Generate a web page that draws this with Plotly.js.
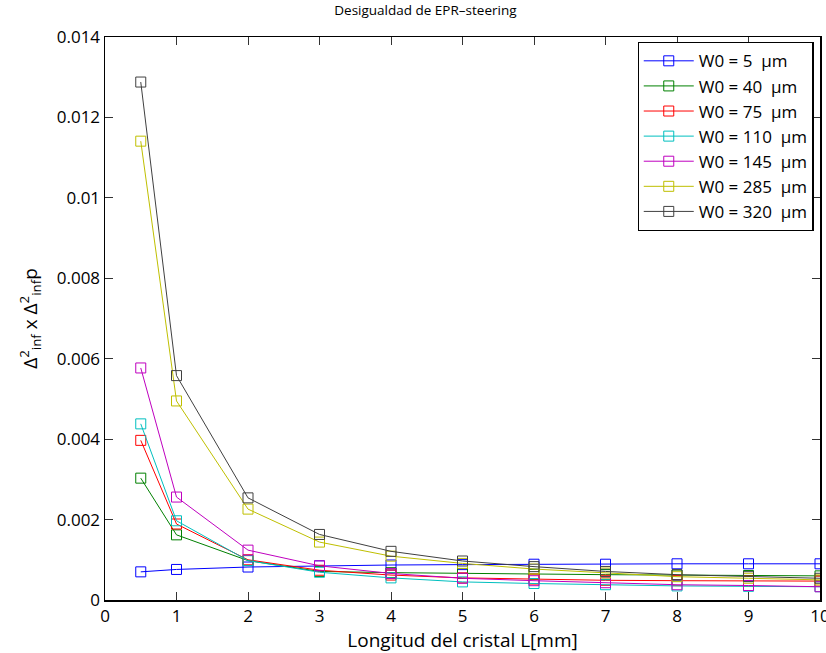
<!DOCTYPE html>
<html><head><meta charset="utf-8">
<script src="https://cdn.plot.ly/plotly-3.0.1.min.js"></script>
<style>body{margin:0;background:#fff}#chart{width:826px;height:653px}</style>
</head><body><div id="chart"></div>
<script>
const L = [0.5, 1, 2, 3, 4, 5, 6, 7, 8, 9, 10];
const names = ["W0 = 5  μm", "W0 = 40  μm", "W0 = 75  μm", "W0 = 110  μm", "W0 = 145  μm", "W0 = 285  μm", "W0 = 320  μm"];
const w5   = [0.00070, 0.00076, 0.00082, 0.00085, 0.00087, 0.00088, 0.00089, 0.00089, 0.00090, 0.00090, 0.00090];
const w40  = [0.00303, 0.00162, 0.00098, 0.00071, 0.00068, 0.00066, 0.00064, 0.00063, 0.00062, 0.00061, 0.00060];
const w75  = [0.00397, 0.00189, 0.00100, 0.00074, 0.00062, 0.00055, 0.00052, 0.00049, 0.00048, 0.00047, 0.00047];
const w110 = [0.00438, 0.00197, 0.00098, 0.00069, 0.00055, 0.00045, 0.00041, 0.00038, 0.00035, 0.00034, 0.00033];
const w145 = [0.00577, 0.00256, 0.00124, 0.00085, 0.00066, 0.00054, 0.00048, 0.00043, 0.00038, 0.00036, 0.00033];
const w285 = [0.01141, 0.00495, 0.00226, 0.00144, 0.00109, 0.00091, 0.00077, 0.00067, 0.00058, 0.00054, 0.00050];
const w320 = [0.01288, 0.00558, 0.00254, 0.00163, 0.00121, 0.00097, 0.00083, 0.00071, 0.00063, 0.00058, 0.00054];
const series = [w5, w40, w75, w110, w145, w285, w320];
const colors = ["#0000ff", "#008000", "#ff0000", "#00bfbf", "#bf00bf", "#bfbf00", "#404040"];
const traces = series.map((s, i) => ({
  x: L, y: s, name: names[i], type: "scatter", mode: "lines+markers",
  line: {color: colors[i], width: 1},
  marker: {symbol: "square-open", size: 10, color: colors[i], line: {width: 1}}
}));
const font = {family: "Open Sans, Noto Sans, sans-serif", size: 17, color: "#000"};
const layout = {
  width: 826, height: 653,
  margin: {l: 105, r: 6, t: 37, b: 53},
  paper_bgcolor: "#fff", plot_bgcolor: "#fff",
  font: font,
  showlegend: true,
  title: {text: "Desigualdad de EPR\u2013steering", font: {size: 13.5, family: font.family}, x: 0.515, xanchor: "center", y: 0.991, yanchor: "top"},
  xaxis: {range: [0, 10], dtick: 1, tick0: 0, ticks: "inside", ticklen: 8, tickcolor: "#333",
    showline: true, linecolor: "#000", linewidth: 1.5, mirror: "ticks", showgrid: false, zeroline: false,
    ticklabeloverflow: "allow",
    title: {text: "Longitud del cristal L[mm]", font: {size: 19}, standoff: 0}, tickfont: {size: 17}},
  yaxis: {range: [0, 0.014], dtick: 0.002, tick0: 0, ticks: "inside", ticklen: 8, tickcolor: "#333",
    showline: true, linecolor: "#000", linewidth: 1.5, mirror: "ticks", showgrid: false, zeroline: false,
    title: {text: "Δ<sup>2</sup><sub>inf</sub> x Δ<sup>2</sup><sub>inf</sub>p", font: {size: 19}, standoff: 14}, tickfont: {size: 17}},
  legend: {x: 0.991, xanchor: "right", y: 0.991, yanchor: "top", bgcolor: "#fff",
    bordercolor: "#000", borderwidth: 1.2, font: {size: 17}, tracegroupgap: 0, itemwidth: 50}
};
Plotly.newPlot("chart", traces, layout, {displayModeBar: false, staticPlot: true});
</script></body></html>
